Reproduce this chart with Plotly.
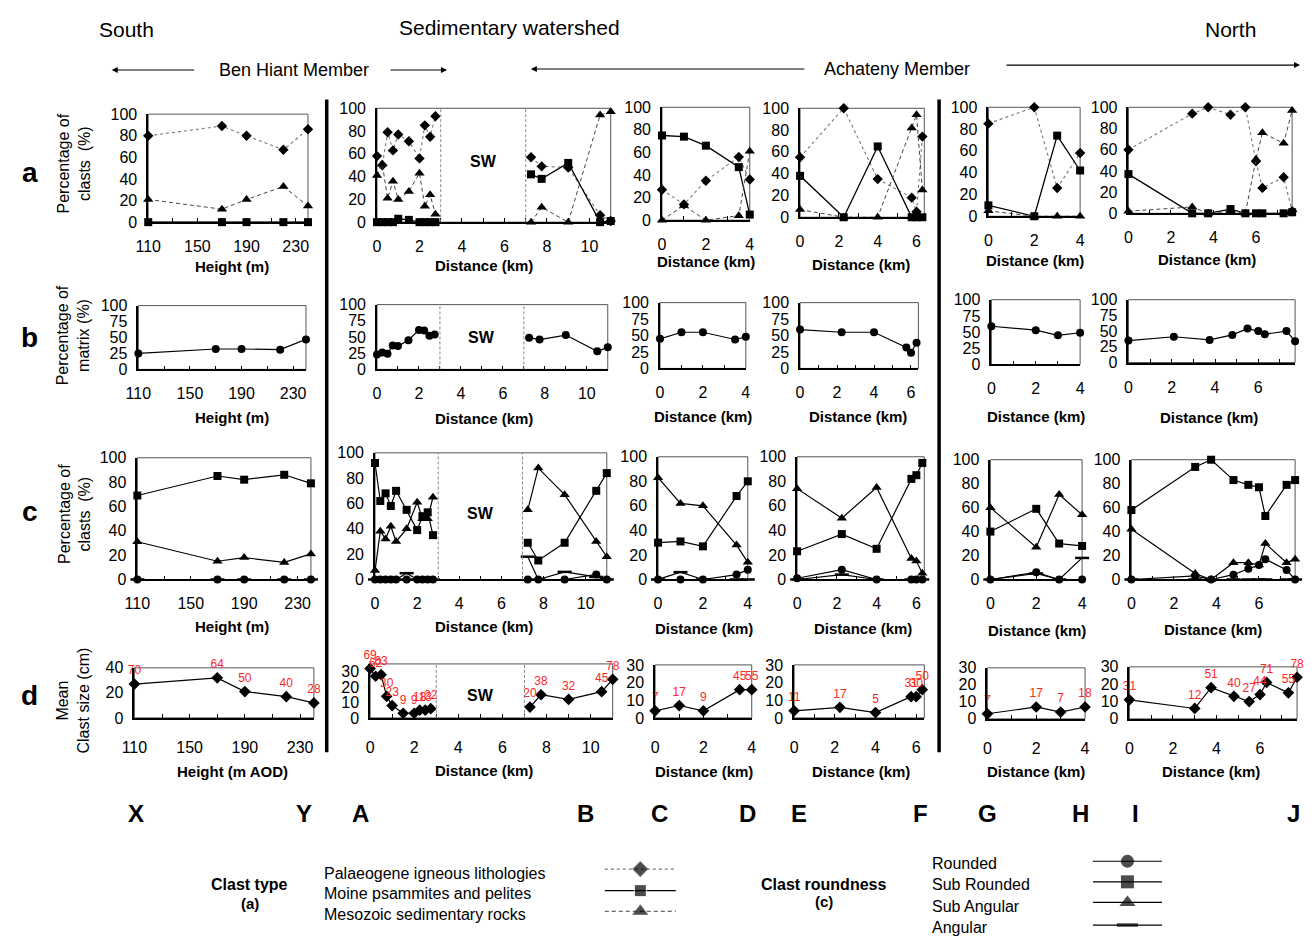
import plotly.graph_objects as go

# The page keeps the browser's default 8px body margin, so the figure is 16px smaller
# than the window and every reference pixel position is shifted by that margin.
PAGE_W, PAGE_H = 1315, 944
OX, OY = 8, 8
W, H = PAGE_W - 2 * OX, PAGE_H - 2 * OY
FONT = "Liberation Sans, Arial, Helvetica, sans-serif"

# ------------------------------------------------------------------ data
height_xy = [110, 170, 190, 220, 240]
dist_ab = [0, 0.25, 0.5, 0.75, 1.0, 1.5, 2.0, 2.25, 2.5, 2.75, None, 7.25, 7.75, 9, 10.5, 11]
dist_cd = [0, 1, 2, 3.5, 4]
dist_ef = [0, 2.25, 4, 5.75, 6.0, 6.3]
dist_gh = [0, 2, 3, 4]
dist_ij = [0, 3, 3.75, 4.8, 5.5, 6.0, 6.3, 7.3, 7.7]
dist_ij_matrix = [0, 2.1, 3.75, 4.8, 5.5, 6.0, 6.3, 7.3, 7.7]

# (a) clast type (%)
palaeogene_xy = [80, 89, 80, 67, 86]
moine_xy = [0, 0, 0, 0, 0]
mesozoic_xy = [21, 12, 21, 33, 15]
palaeogene_ab = [58, 50, 79, 63, 77, 71, 56, 85, 75, 93, None, 57, 49, 48, 6, 1]
moine_ab = [0, 0, 0, 0, 3, 2, 0, 0, 0, 0, None, 42, 38, 52, 0, 1]
mesozoic_ab = [41, 51, 21, 36, 20, 27, 43, 14, 24, 7, None, 0, 13, 0, 94, 97]
palaeogene_cd = [27, 14, 35, 56, 36]
moine_cd = [75, 74, 66, 47, 5]
mesozoic_cd = [0, 13, 0, 4, 61]
palaeogene_ef = [55, 100, 35, 18, 5, 74]
moine_ef = [38, 0, 65, 0, 0, 0]
mesozoic_ef = [7, 0, 0, 82, 94, 25]
palaeogene_gh = [85, 100, 26, 58]
moine_gh = [10, 0, 74, 42]
mesozoic_gh = [5, 0, 0, 0]
palaeogene_ij = [60, 94, 100, 93, 100, 49, 24, 34, 2]
moine_ij = [37, 0, 0, 4, 0, 0, 0, 0, 1]
mesozoic_ij = [2, 6, 0, 2, 0, 51, 76, 66, 97]

# (b) matrix (%)
matrix_xy = [25, 32, 32, 31, 47]
matrix_ab = [23, 26, 24, 37, 36, 45, 61, 60, 52, 54, None, 49, 46, 53, 28, 34]
matrix_cd = [45, 55, 55, 44, 48]
matrix_ef = [59, 55, 55, 32, 24, 39]
matrix_gh = [59, 53, 45, 49]
matrix_ij = [35, 41, 36, 44, 54, 50, 45, 50, 34]

# (c) clast roundness (%)
rounded_xy = [0, 0, 0, 0, 0]
subrounded_xy = [69, 85, 82, 86, 79]
subangular_xy = [31, 15, 18, 14, 21]
angular_xy = [0, 0, 0, 0, 0]
rounded_ab = [0, 0, 0, 0, 0, 0, 0, 0, 0, 0, None, 0, 0, 0, 4, 0]
subrounded_ab = [92, 62, 68, 58, 70, 55, 39, 50, 53, 35, None, 29, 15, 29, 70, 84]
subangular_ab = [7, 38, 32, 42, 30, 40, 61, 48, 48, 65, None, 55, 88, 67, 30, 18]
angular_ab = [0, 0, 0, 0, 0, 5, 0, 0, 0, 0, None, 18, 0, 6, 2, 0]
rounded_cd = [0, 0, 0, 4, 8]
subrounded_cd = [30, 31, 27, 68, 80]
subangular_cd = [83, 62, 60, 28, 14]
angular_cd = [0, 6, 0, 0, 0]
rounded_ef = [1, 8, 0, 0, 0, 0]
subrounded_ef = [23, 37, 25, 82, 85, 95]
subangular_ef = [74, 50, 75, 17, 15, 5]
angular_ef = [0, 4, 0, 0, 0, 0]
rounded_gh = [0, 6, 0, 0]
subrounded_gh = [40, 59, 30, 28]
subangular_gh = [60, 27, 71, 54]
angular_gh = [0, 5, 0, 18]
rounded_ij = [0, 3, 0, 4, 9, 12, 17, 8, 0]
subrounded_ij = [58, 94, 100, 83, 79, 77, 53, 79, 83]
subangular_ij = [42, 5, 0, 14, 14, 12, 30, 14, 17]
angular_ij = [0, 0, 0, 0, 0, 0, 0, 0, 0]

# (d) mean clast size (cm) and number of clasts (labels)
size_xy = [27, 32, 21, 17, 12]
count_xy = [70, 64, 50, 40, 28]
size_ab = [32, 27, 28, 14, 8, 3, 3, 5, 5, 6, None, 7, 15, 12, 17, 25]
count_ab = [69, 62, 63, 30, 23, 9, 9, 18, 13, 22, None, 20, 38, 32, 45, 78]
size_cd = [4, 7, 4, 16, 16]
count_cd = [7, 17, 9, 45, 55]
size_ef = [4, 6, 3, 12, 12, 16]
count_ef = [11, 17, 5, 31, 30, 50]
size_gh = [3, 7, 4, 7]
count_gh = [7, 17, 7, 18]
size_ij = [11, 6, 18, 13, 10, 14, 21, 15, 24]
count_ij = [31, 12, 51, 40, 27, 44, 71, 55, 78]

section_letters = ["X", "Y", "A", "B", "C", "D", "E", "F", "G", "H", "I", "J"]
clast_types = ["Palaeogene igneous lithologies", "Moine psammites and pelites", "Mesozoic sedimentary rocks"]
roundness_classes = ["Rounded", "Sub Rounded", "Sub Angular", "Angular"]

# ------------------------------------------------------------------ layout geometry (page pixels)
cols = ["XY", "AB", "CD", "EF", "GH", "IJ"]
rows = ["a", "b", "c", "d"]
boxes = {
    "a": {"XY": (137, 299, 108, 218), "AB": (369, 606, 102, 218), "CD": (658, 747, 101, 216),
          "EF": (798, 924, 102, 213), "GH": (989, 1082, 101, 212), "IJ": (1131, 1297, 101, 209)},
    "b": {"XY": (127, 297, 303, 368), "AB": (369, 603, 302, 368), "CD": (656, 743, 300, 367),
          "EF": (798, 918, 300, 367), "GH": (992, 1082, 297, 363), "IJ": (1131, 1300, 297, 361)},
    "c": {"XY": (126, 302, 458, 582), "AB": (367, 602, 453, 582), "CD": (654, 745, 457, 582),
          "EF": (795, 924, 457, 582), "GH": (991, 1084, 460, 582), "IJ": (1134, 1300, 460, 582)},
    "d": {"XY": (123, 305, 672, 723), "AB": (362, 608, 668, 723), "CD": (651, 749, 669, 723),
          "EF": (792, 924, 669, 723), "GH": (988, 1087, 672, 724), "IJ": (1132, 1302, 671, 724)},
}
xranges = {"XY": [110, 240], "AB": [0, 11], "CD": [0, 4], "EF": [0, 6.4], "GH": [0, 4], "IJ": [0, 7.7]}

x_of = {"XY": height_xy, "AB": dist_ab, "CD": dist_cd, "EF": dist_ef, "GH": dist_gh, "IJ": dist_ij}
row_a = {"XY": (palaeogene_xy, moine_xy, mesozoic_xy), "AB": (palaeogene_ab, moine_ab, mesozoic_ab),
         "CD": (palaeogene_cd, moine_cd, mesozoic_cd), "EF": (palaeogene_ef, moine_ef, mesozoic_ef),
         "GH": (palaeogene_gh, moine_gh, mesozoic_gh), "IJ": (palaeogene_ij, moine_ij, mesozoic_ij)}
row_b = {"XY": matrix_xy, "AB": matrix_ab, "CD": matrix_cd, "EF": matrix_ef, "GH": matrix_gh, "IJ": matrix_ij}
row_c = {"XY": (rounded_xy, subrounded_xy, subangular_xy, angular_xy),
         "AB": (rounded_ab, subrounded_ab, subangular_ab, angular_ab),
         "CD": (rounded_cd, subrounded_cd, subangular_cd, angular_cd),
         "EF": (rounded_ef, subrounded_ef, subangular_ef, angular_ef),
         "GH": (rounded_gh, subrounded_gh, subangular_gh, angular_gh),
         "IJ": (rounded_ij, subrounded_ij, subangular_ij, angular_ij)}
row_d = {"XY": (size_xy, count_xy), "AB": (size_ab, count_ab), "CD": (size_cd, count_cd),
         "EF": (size_ef, count_ef), "GH": (size_gh, count_gh), "IJ": (size_ij, count_ij)}

TYPE_STYLE = [  # palaeogene, moine, mesozoic
    dict(symbol="diamond", size=8, dash="dot", lcolor="#777777", lwidth=1.1),
    dict(symbol="square", size=8, dash="solid", lcolor="black", lwidth=1.3),
    dict(symbol="triangle-up", size=9, dash="4px,3px", lcolor="#444444", lwidth=1.0),
]
ROUND_STYLE = [
    dict(symbol="circle", size=8),
    dict(symbol="square", size=8),
    dict(symbol="triangle-up", size=9),
    dict(symbol="line-ew", size=10),
]


def fx(px):
    return (px - OX) / W


def fy(py):
    return 1 - (py - OY) / H


fig = go.Figure()
layout = dict(width=W, height=H, margin=dict(l=0, r=0, t=0, b=0), autosize=False,
              paper_bgcolor="white", plot_bgcolor="rgba(0,0,0,0)", showlegend=False,
              font=dict(family=FONT, color="black"))
shapes = []
ann = []


def xn(k):
    return "x" if k == 1 else f"x{k}"


def yn(k):
    return "y" if k == 1 else f"y{k}"


def txt(px, py, s, size=16, bold=False, color="black", xanchor="center", angle=0):
    if bold:
        s = f"<b>{s}</b>"
    ann.append(dict(x=fx(px), y=fy(py), xref="paper", yref="paper", text=s, showarrow=False,
                    font=dict(size=size, color=color, family=FONT), xanchor=xanchor,
                    yanchor="middle", textangle=angle))


def arrow(hx, hy, tx, ty):
    ann.append(dict(x=fx(hx), y=fy(hy), xref="paper", yref="paper", ax=tx - hx, ay=ty - hy,
                    text="", showarrow=True, arrowhead=2, arrowsize=1.1, arrowwidth=1.1,
                    arrowcolor="black", standoff=0, startstandoff=0))


def series(k, x, y, symbol, size, dash="solid", lcolor="black", lwidth=1.2, labels=None):
    mode = "lines+markers" + ("+text" if labels is not None else "")
    mline = dict(color="black", width=2.5 if symbol == "line-ew" else 0)
    tr = go.Scatter(x=x, y=y, mode=mode, xaxis=xn(k), yaxis=yn(k), cliponaxis=False,
                    line=dict(color=lcolor, width=lwidth, dash=dash),
                    marker=dict(symbol=symbol, size=size, color="black", line=mline),
                    hoverinfo="skip", showlegend=False)
    if labels is not None:
        tr.text = ["" if v is None else str(v) for v in labels]
        tr.textposition = "top center"
        tr.textfont = dict(color="#ff2626", size=12, family=FONT)
    fig.add_trace(tr)


standoff_x = {"a": 9, "b": 9, "c": 9, "d": 14}
for ri, r in enumerate(rows):
    for ci, c in enumerate(cols):
        k = ri * 6 + ci + 1
        x0, x1, yt, yb = boxes[r][c]
        if c == "XY":
            tv = list(range(110, 231, 20))
            tt = [str(v) if (v - 110) % 40 == 0 else "" for v in tv]
        else:
            top = int(xranges[c][1])
            tv = list(range(0, top + 1))
            tt = [str(v) if v % 2 == 0 else "" for v in tv]
        if r in ("a", "c"):
            yr, ytv = [0, 100], [0, 20, 40, 60, 80, 100]
        elif r == "b":
            yr, ytv = [0, 100], [0, 25, 50, 75, 100]
        else:
            if c == "XY":
                yr, ytv = [0, 40], [0, 20, 40]
            elif c == "AB":
                yr, ytv = [0, 35], [0, 10, 20, 30]
            else:
                yr, ytv = [0, 30], [0, 10, 20, 30]
        xkey = "xaxis" if k == 1 else f"xaxis{k}"
        ykey = "yaxis" if k == 1 else f"yaxis{k}"
        layout[xkey] = dict(domain=[fx(x0), fx(x1)], range=xranges[c], anchor=yn(k),
                            tickvals=tv, ticktext=tt, ticks="inside", ticklen=4, tickwidth=1,
                            tickcolor="black", showline=True, linecolor="black", linewidth=1.6,
                            showgrid=False, zeroline=False, fixedrange=True,
                            tickfont=dict(size=16, family=FONT, color="black"),
                            ticklabelstandoff=standoff_x[r])
        layout[ykey] = dict(domain=[fy(yb), fy(yt)], range=yr, anchor=xn(k),
                            tickvals=ytv, ticks="", showline=True, linecolor="black",
                            linewidth=1.6, showgrid=False, zeroline=False, fixedrange=True,
                            tickfont=dict(size=16, family=FONT, color="black"),
                            ticklabelstandoff=6)
        xr = xn(k) + " domain"
        yrf = yn(k) + " domain"
        shapes.append(dict(type="rect", xref=xr, yref=yrf, x0=0, x1=1, y0=0, y1=1,
                           line=dict(color="#555555", width=1), layer="below"))
        if c == "AB":
            for xv in (3, 7):
                shapes.append(dict(type="line", xref=xn(k), yref=yrf, x0=xv, x1=xv, y0=0, y1=1,
                                   line=dict(color="#888888", width=1, dash="3px,2px")))
            sw_y = {"a": 0.53, "b": 0.5, "c": 0.52, "d": 0.42}[r]
            ann.append(dict(x=5, y=sw_y, xref=xn(k), yref=yrf, text="<b>SW</b>", showarrow=False,
                            font=dict(size=16, family=FONT, color="black")))

        xs = x_of[c]
        if r == "a":
            for vals, st in zip(row_a[c], TYPE_STYLE):
                series(k, xs, vals, st["symbol"], st["size"], st["dash"], st["lcolor"], st["lwidth"])
        elif r == "b":
            xb = dist_ij_matrix if c == "IJ" else xs
            series(k, xb, row_b[c], "circle", 8)
        elif r == "c":
            for oi in [3, 0, 2, 1]:
                st = ROUND_STYLE[oi]
                series(k, xs, row_c[c][oi], st["symbol"], st["size"])
        else:
            vals, labs = row_d[c]
            series(k, xs, vals, "diamond", 9, labels=labs)

# ------------------------------------------------------------------ legend samples (overlay axis in page pixels)
layout["xaxis25"] = dict(domain=[0, 1], range=[OX, OX + W], visible=False, fixedrange=True, anchor="y25")
layout["yaxis25"] = dict(domain=[0, 1], range=[OY + H, OY], visible=False, fixedrange=True, anchor="x25")
leg_type_y = [877, 899, 920]
for yy, st in zip(leg_type_y, TYPE_STYLE):
    fig.add_trace(go.Scatter(x=[600, 636, 672], y=[yy] * 3, mode="lines+markers", xaxis="x25",
                             yaxis="y25", line=dict(color=st["lcolor"], width=st["lwidth"], dash=st["dash"]),
                             marker=dict(symbol=st["symbol"], size=[0, st["size"] + 4, 0], color="black"),
                             hoverinfo="skip", showlegend=False, cliponaxis=False))
leg_round_y = [869, 890, 911, 934]
for yy, st in zip(leg_round_y, ROUND_STYLE):
    fig.add_trace(go.Scatter(x=[1095, 1130, 1165], y=[yy] * 3, mode="lines+markers", xaxis="x25",
                             yaxis="y25", line=dict(color="black", width=1.2),
                             marker=dict(symbol=st["symbol"], size=[0, st["size"] + 5, 0], color="black",
                                         line=dict(color="black", width=3.5 if st["symbol"] == "line-ew" else 0)),
                             hoverinfo="skip", showlegend=False, cliponaxis=False))

# ------------------------------------------------------------------ text
txt(115, 22, "South", 21)
txt(503, 20, "Sedimentary watershed", 21)
txt(1235, 22, "North", 21)
txt(285, 63, "Ben Hiant Member", 18)
txt(896, 62, "Achateny Member", 18)
arrow(100, 63, 184, 63)
arrow(440, 63, 382, 63)
arrow(525, 62, 800, 62)
arrow(1305, 58, 1010, 58)

for letter, yy in zip(rows, [167, 335, 513, 700]):
    txt(17, yy, letter, 28, bold=True)

txt(62, 158, "Percentage of<br>clasts  (%)", 16, angle=-90)
txt(61, 333, "Percentage of<br>matrix (%)", 16, angle=-90)
txt(62, 515, "Percentage of<br>clasts  (%)", 16, angle=-90)
txt(61, 705, "Mean<br>Clast size (cm)", 16, angle=-90)

xt_pos = {
    "a": [(222, 263), (478, 262), (703, 258), (860, 261), (1036, 257), (1211, 256)],
    "b": [(222, 417), (478, 418), (700, 416), (857, 416), (1037, 416), (1213, 417)],
    "c": [(222, 630), (478, 630), (701, 632), (862, 632), (1038, 634), (1217, 633)],
    "d": [(222, 778), (478, 777), (701, 778), (860, 778), (1037, 778), (1215, 778)],
}
for r in rows:
    for ci, (px, py) in enumerate(xt_pos[r]):
        if ci == 0:
            label = "Height (m AOD)" if r == "d" else "Height (m)"
        else:
            label = "Distance (km)"
        txt(px, py, label, 15, bold=True)

letter_x = [125, 295, 352, 580, 655, 745, 797, 920, 988, 1082, 1138, 1298]
for lx, s in zip(letter_x, section_letters):
    txt(lx, 820, s, 24, bold=True)

txt(240, 893, "Clast type", 16, bold=True)
txt(240, 912, "(a)", 15, bold=True)
for s, yy in zip(clast_types, [881, 902, 923]):
    txt(313, yy, s, 16, xanchor="left")
txt(822, 893, "Clast roundness", 16, bold=True)
txt(822, 910, "(c)", 15, bold=True)
for s, yy in zip(roundness_classes, [871, 893, 915, 936]):
    txt(930, yy, s, 16, xanchor="left")

for sx in (318, 939):
    shapes.append(dict(type="line", xref="paper", yref="paper", x0=fx(sx), x1=fx(sx),
                       y0=fy(93), y1=fy(758), line=dict(color="black", width=3.5)))

layout["shapes"] = shapes
layout["annotations"] = ann
fig.update_layout(**layout)

fig.write_html("out.html", config={"displayModeBar": False})
